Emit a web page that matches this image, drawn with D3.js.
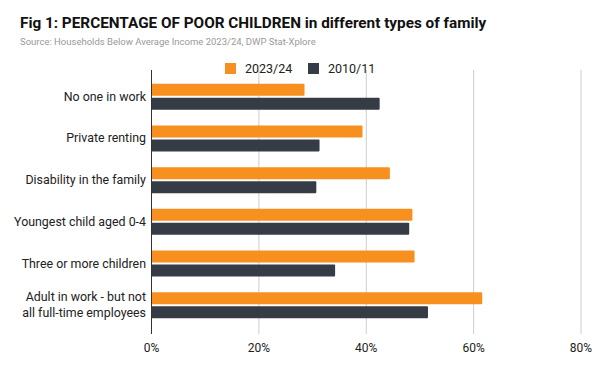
<!DOCTYPE html>
<html>
<head>
<meta charset="utf-8">
<script src="https://cdn.jsdelivr.net/npm/d3@7"></script>
<style>
  body { margin: 0; background: #fff; }
  text { font-family: Roboto, sans-serif; }
</style>
</head>
<body>
<div id="chart"></div>
<script>
var categories = [
	"No one in work",
	"Private renting",
	"Disability in the family",
	"Youngest child aged 0-4",
	"Three or more children",
	"Adult in work - but not all full-time employees"
];
var seriesNames = ["2023/24", "2010/11"];
var values2023 = [28.5, 39.3, 44.4, 48.6, 49.0, 61.6];
var values2010 = [42.5, 31.3, 30.7, 48.0, 34.2, 51.5];
var xTicks = [0, 20, 40, 60, 80];
var colors = ["#f7901e", "#363c46"];

var width = 600, height = 371;

var svg = d3.select("#chart").append("svg")
	.attr("width", width)
	.attr("height", height);

svg.append("text")
	.attr("x", 20).attr("y", 28)
	.attr("font-size", 15.3)
	.attr("font-weight", "bold")
	.attr("fill", "#111")
	.text("Fig 1: PERCENTAGE OF POOR CHILDREN in different types of family");

svg.append("text")
	.attr("x", 20).attr("y", 45)
	.attr("font-size", 9.5)
	.attr("fill", "#999")
	.text("Source: Households Below Average Income 2023/24, DWP Stat-Xplore");

var x = d3.scaleLinear()
	.domain([0, 80])
	.range([151.5, 581]);

var y = d3.scaleBand()
	.domain(categories)
	.range([76, 326])
	.paddingInner(0.376)
	.paddingOuter(0.186);

var y1 = d3.scaleBand()
	.domain(seriesNames)
	.range([0, y.bandwidth()])
	.paddingInner(0.143);

// gridlines
svg.append("g")
	.selectAll("line")
	.data(xTicks.slice(1))
	.enter().append("line")
	.attr("x1", d => x(d)).attr("x2", d => x(d))
	.attr("y1", 70).attr("y2", 334)
	.attr("stroke", "#ccc")
	.attr("stroke-width", 1);

// tick labels
svg.append("g")
	.selectAll("text")
	.data(xTicks)
	.enter().append("text")
	.attr("x", d => x(d))
	.attr("y", 352)
	.attr("text-anchor", "middle")
	.attr("font-size", 12)
	.attr("fill", "#222")
	.text(d => d + "%");

var data = categories.map((c, i) => ({ cat: c, vals: [values2023[i], values2010[i]] }));

var groups = svg.append("g")
	.selectAll("g")
	.data(data)
	.enter().append("g")
	.attr("transform", d => `translate(0,${y(d.cat)})`);

groups.selectAll("rect")
	.data(d => d.vals.map((v, j) => ({ key: seriesNames[j], value: v, j: j })))
	.enter().append("rect")
	.attr("x", x(0))
	.attr("y", d => y1(d.key))
	.attr("width", d => x(d.value) - x(0))
	.attr("height", y1.bandwidth())
	.attr("rx", 1)
	.attr("fill", d => colors[d.j]);

// category labels
var labels = svg.append("g")
	.selectAll("text")
	.data(categories)
	.enter().append("text")
	.attr("x", 146)
	.attr("text-anchor", "end")
	.attr("font-size", 12.4)
	.attr("fill", "#222");

labels.each(function(d) {
	var t = d3.select(this);
	var cy = y(d) + y.bandwidth() / 2;
	var lines = d.length > 30 ? ["Adult in work - but not", "all full-time employees"] : [d];
	lines.forEach(function(line, i) {
		t.append("tspan")
			.attr("x", 146)
			.attr("y", cy + 4 + (i - (lines.length - 1) / 2) * 16)
			.text(line);
	});
});

// y axis line
svg.append("line")
	.attr("x1", x(0)).attr("x2", x(0))
	.attr("y1", 70).attr("y2", 334)
	.attr("stroke", "#333")
	.attr("stroke-width", 1);

// legend
var legend = svg.append("g")
	.selectAll("g")
	.data(seriesNames)
	.enter().append("g")
	.attr("transform", (d, i) => `translate(${225 + i * 83},63)`);

legend.append("rect")
	.attr("width", 11).attr("height", 11)
	.attr("fill", (d, i) => colors[i]);

legend.append("text")
	.attr("x", 20).attr("y", 10)
	.attr("font-size", 12.5)
	.attr("fill", "#222")
	.text(d => d);
</script>
</body>
</html>
